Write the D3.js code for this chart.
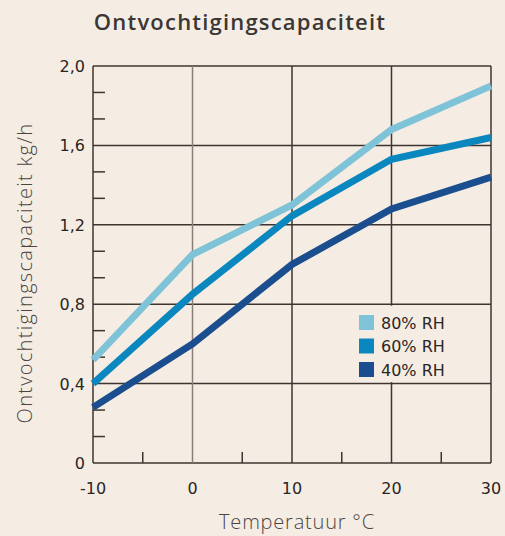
<!DOCTYPE html>
<html>
<head>
<meta charset="utf-8">
<script src="https://cdn.jsdelivr.net/npm/d3@7"></script>
<style>
  body { margin: 0; background: #f5ede3; }
  text { font-family: "Open Sans", sans-serif; }
  .num { font-family: "DejaVu Sans", sans-serif; }
</style>
</head>
<body>
<div id="chart"></div>
<script>
// temperatures (x) and capacity per relative humidity
const temps = [-10, 0, 10, 20, 30];
const rh80 = [0.52, 1.05, 1.30, 1.68, 1.90];
const rh60 = [0.40, 0.85, 1.245, 1.53, 1.64];
const rh40 = [0.28, 0.60, 1.00, 1.28, 1.44];
const seriesNames = ['80% RH', '60% RH', '40% RH'];
const seriesColors = ['#7fc3d8', '#0b87bf', '#1a4e8f'];
const yTicks = [0, 0.4, 0.8, 1.2, 1.6, 2.0];
const yMinor = [0.1333, 0.2667, 0.5333, 0.6667, 0.9333, 1.0667, 1.3333, 1.4667, 1.7333, 1.8667];
const xTicks = [-10, 0, 10, 20, 30];
const xMinor = [-5, 5, 15, 25];

const W = 505, H = 536;
const margin = { top: 66, right: 14, bottom: 73, left: 93 },
    width = W - margin.left - margin.right,
    height = H - margin.top - margin.bottom;

const svg = d3.select('#chart').append('svg')
    .attr('width', W).attr('height', H);
svg.append('rect').attr('width', W).attr('height', H).attr('fill', '#f5ede3');

const g = svg.append('g')
    .attr('transform', 'translate(' + margin.left + ',' + margin.top + ')');

let x = d3.scaleLinear().domain([-10, 30]).range([0, width]);
let y = d3.scaleLinear().domain([0, 2.0]).range([height, 0]);

const fmt = d => d === 0 ? '0' : d3.format('.1f')(d).replace('.', ',');

// grid
g.selectAll('.hgrid').data(yTicks).enter().append('line')
    .attr('x1', 0).attr('x2', width)
    .attr('y1', d => y(d)).attr('y2', d => y(d))
    .attr('stroke', '#3e3531').attr('stroke-width', 1.5);
g.selectAll('.vgrid').data(xTicks).enter().append('line')
    .attr('y1', 0).attr('y2', height)
    .attr('x1', d => x(d)).attr('x2', d => x(d))
    .attr('stroke', d => d === 0 ? '#8a7f78' : '#3e3531').attr('stroke-width', 1.5);

// minor ticks
g.selectAll('.ymin').data(yMinor).enter().append('line')
    .attr('x1', 0).attr('x2', 12)
    .attr('y1', d => y(d)).attr('y2', d => y(d))
    .attr('stroke', '#3e3531').attr('stroke-width', 1.5);
g.selectAll('.xmin').data(xMinor).enter().append('line')
    .attr('y1', height).attr('y2', height - 11)
    .attr('x1', d => x(d)).attr('x2', d => x(d))
    .attr('stroke', '#3e3531').attr('stroke-width', 1.5);

// legend box covers part of grid
const legY = y(0.8), legH = y(0.4) - y(0.8);
g.append('rect')
    .attr('x', x(10) + 2).attr('y', legY + 1.5)
    .attr('width', width - x(10) - 3).attr('height', legH - 3)
    .attr('fill', '#f5ede3');

// lines
const all = [rh80, rh60, rh40];
const line = d3.line().x((d, i) => x(temps[i])).y(d => y(d));
all.forEach(function (vals, k) {
    g.append('path')
        .datum(vals)
        .attr('fill', 'none')
        .attr('stroke', seriesColors[k])
        .attr('stroke-width', 7)
        .attr('d', line);
});

// axis labels
g.selectAll('.ylab').data(yTicks).enter().append('text')
    .attr('class', 'num')
    .attr('x', -8).attr('y', d => y(d) + 6)
    .attr('text-anchor', 'end')
    .attr('font-size', 16).attr('fill', '#2b2523')
    .text(fmt);
g.selectAll('.xlab').data(xTicks).enter().append('text')
    .attr('class', 'num')
    .attr('x', d => x(d)).attr('y', height + 31)
    .attr('text-anchor', 'middle')
    .attr('font-size', 16).attr('fill', '#2b2523')
    .text(d => d);

// legend
seriesNames.forEach(function (name, k) {
    const ly = 315 - margin.top + k * 23.5;
    g.append('rect')
        .attr('x', 359 - margin.left).attr('y', ly)
        .attr('width', 15).attr('height', 15)
        .attr('fill', seriesColors[k]);
    g.append('text')
        .attr('class', 'num')
        .attr('x', 381 - margin.left).attr('y', ly + 13.5)
        .attr('font-size', 16).attr('fill', '#2b2523')
        .text(name);
});

// titles
svg.append('text')
    .attr('x', 240).attr('y', 30)
    .attr('text-anchor', 'middle')
    .attr('font-size', 22).attr('font-weight', 600).attr('fill', '#3b3735')
    .attr('letter-spacing', 1.2)
    .text('Ontvochtigingscapaciteit');
svg.append('text')
    .attr('x', 297).attr('y', 529)
    .attr('text-anchor', 'middle')
    .attr('font-size', 20).attr('font-weight', 300).attr('fill', '#4a4543')
    .attr('letter-spacing', 0.8)
    .text('Temperatuur °C');
svg.append('text')
    .attr('transform', 'translate(32,273) rotate(-90)')
    .attr('text-anchor', 'middle')
    .attr('font-size', 20).attr('font-weight', 300).attr('fill', '#4a4543')
    .attr('letter-spacing', 1.3)
    .text('Ontvochtigingscapaciteit kg/h');
</script>
</body>
</html>
